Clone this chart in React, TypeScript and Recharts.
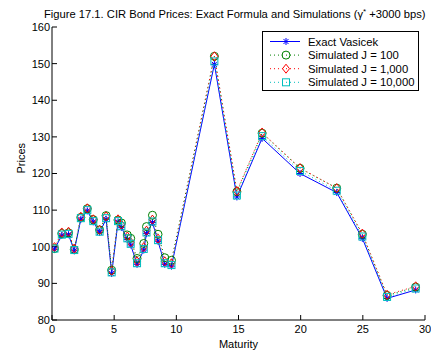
import React from 'react';
import { LineChart, Line, XAxis, YAxis, Legend } from 'recharts';

const maturities = [0.2, 0.79, 1.33, 1.79, 2.32, 2.84, 3.32, 3.83, 4.35, 4.8, 5.31, 5.58, 6.06, 6.33, 6.84, 7.38, 7.6, 8.08, 8.53, 9.07, 9.61, 13.06, 14.87, 16.9, 19.95, 22.9, 24.96, 26.95, 29.25];
const exactVasicek = [99.3, 103.1, 103.3, 98.9, 107.5, 109.8, 106.8, 103.9, 107.5, 92.7, 106.8, 105.3, 102.0, 100.5, 95.2, 99.1, 103.6, 106.6, 101.5, 95.2, 94.7, 149.8, 113.6, 129.6, 120.0, 114.8, 102.3, 85.9, 88.2];
const simJ100 = [99.5, 103.6, 103.8, 99.2, 108.0, 110.4, 107.4, 104.6, 108.5, 93.6, 107.3, 106.5, 103.2, 102.3, 96.8, 100.9, 105.5, 108.6, 103.4, 97.0, 96.3, 152.0, 115.0, 131.0, 121.4, 116.0, 103.4, 86.7, 89.0];
const simJ1000 = [99.9, 103.9, 104.1, 99.5, 108.2, 110.5, 107.5, 104.6, 108.3, 93.4, 107.5, 106.0, 102.8, 101.2, 96.0, 99.9, 104.4, 107.4, 102.2, 96.0, 95.5, 152.0, 115.2, 131.2, 121.5, 116.0, 103.6, 86.9, 89.2];
const simJ10000 = [99.5, 103.3, 103.5, 99.1, 107.8, 110.0, 107.0, 104.1, 107.8, 93.0, 107.0, 105.6, 102.3, 100.8, 95.5, 99.4, 103.9, 106.9, 101.8, 95.5, 95.0, 150.6, 114.0, 130.2, 120.7, 115.3, 102.8, 86.3, 88.6];

const xTicks = [0, 5, 10, 15, 20, 25, 30];
const yTicks = [80, 90, 100, 110, 120, 130, 140, 150, 160];
const seriesNames = ['Exact Vasicek', 'Simulated J = 100', 'Simulated J = 1,000', 'Simulated J = 10,000'];

const data = maturities.map((m, i) => ({
  m,
  exact: exactVasicek[i],
  j100: simJ100[i],
  j1000: simJ1000[i],
  j10000: simJ10000[i],
}));

const BLUE = '#0000ff';
const GREEN = '#008000';
const RED = '#ff0000';
const CYAN = '#00bfbf';
const FONT = '"Liberation Sans", Arial, Helvetica, sans-serif';

const Star = ({ cx, cy, c = BLUE, r = 3.5 }: any) => {
  const d = r * 0.72;
  return (
    <g stroke={c} strokeWidth={1} fill="none">
      <line x1={cx - r} y1={cy} x2={cx + r} y2={cy} />
      <line x1={cx} y1={cy - r} x2={cx} y2={cy + r} />
      <line x1={cx - d} y1={cy - d} x2={cx + d} y2={cy + d} />
      <line x1={cx - d} y1={cy + d} x2={cx + d} y2={cy - d} />
    </g>
  );
};
const Circle = ({ cx, cy, c = GREEN }: any) => (
  <circle cx={cx} cy={cy} r={4} stroke={c} strokeWidth={1} fill="none" />
);
const Diamond = ({ cx, cy, c = RED }: any) => (
  <path d={`M${cx},${cy - 4.5} L${cx + 3.5},${cy} L${cx},${cy + 4.5} L${cx - 3.5},${cy} Z`} stroke={c} strokeWidth={1} fill="none" />
);
const Square = ({ cx, cy, c = CYAN }: any) => (
  <rect x={cx - 3.5} y={cy - 3.5} width={7} height={7} stroke={c} strokeWidth={1} fill="none" />
);

const mk = (Comp: any) => (props: any) => {
  const { cx, cy, index } = props;
  if (cx == null || cy == null) return <g key={`d-${index}`} />;
  return <g key={`d-${index}`}><Comp cx={cx} cy={cy} /></g>;
};

const LegendBox = () => {
  const rows = [
    { name: seriesNames[0], color: BLUE, dash: undefined, M: Star },
    { name: seriesNames[1], color: GREEN, dash: '1 3', M: Circle },
    { name: seriesNames[2], color: RED, dash: '1 3', M: Diamond },
    { name: seriesNames[3], color: CYAN, dash: '1 3', M: Square },
  ];
  return (
    <div style={{ width: 157, height: 60, border: '1px solid #000', background: '#fff', boxSizing: 'border-box', position: 'relative' }}>
      <svg width={155} height={58} style={{ position: 'absolute', left: 0, top: 0 }}>
        {rows.map((r, i) => {
          const y = 9.5 + i * 13.6;
          return (
            <g key={r.name}>
              <line x1={7} y1={y} x2={37} y2={y} stroke={r.color} strokeWidth={1} strokeDasharray={r.dash} />
              <r.M cx={23} cy={y} c={r.color} />
              <text x={45} y={y + 4} fontSize={11.3} fontFamily={FONT} fill="#000">{r.name}</text>
            </g>
          );
        })}
      </svg>
    </div>
  );
};

export default function App() {
  return (
    <div style={{ position: 'absolute', left: 0, top: 0, width: 431, height: 353, background: '#fff', fontFamily: FONT }}>
      <div style={{ position: 'absolute', left: 44, top: 8, width: 387, whiteSpace: 'nowrap', fontSize: 11.2, color: '#000', lineHeight: '13px' }}>
        Figure 17.1. CIR Bond Prices: Exact Formula and Simulations (γ<sup style={{ fontSize: 8, verticalAlign: '4px', lineHeight: 0 }}>*</sup> +3000 bps)
      </div>
      <LineChart width={431} height={353} data={data} margin={{ top: 27, right: 6, bottom: 0, left: 0 }}>
        <XAxis xAxisId="b" dataKey="m" type="number" domain={[0, 30]} ticks={xTicks} orientation="bottom" height={33}
          tickSize={-5} tickMargin={10} stroke="#000" axisLine={{ stroke: '#000' }} tickLine={{ stroke: '#000' }}
          tick={{ fontSize: 11, fill: '#000', fontFamily: FONT }} allowDataOverflow
          label={{ value: 'Maturity', position: 'insideBottom', offset: 5, fontSize: 11, fill: '#000', fontFamily: FONT }} />
        <XAxis xAxisId="t" dataKey="m" type="number" domain={[0, 30]} ticks={xTicks} orientation="top" height={0}
          tickSize={-5} tick={false} axisLine={{ stroke: '#000' }} tickLine={{ stroke: '#000' }} allowDataOverflow />
        <YAxis yAxisId="l" type="number" domain={[80, 160]} ticks={yTicks} orientation="left" width={52}
          tickSize={-5} tickMargin={7} axisLine={{ stroke: '#000' }} tickLine={{ stroke: '#000' }}
          tick={{ fontSize: 11, fill: '#000', fontFamily: FONT }} allowDataOverflow
          label={{ value: 'Prices', angle: -90, position: 'insideLeft', offset: 21, fontSize: 11, fill: '#000', fontFamily: FONT }} />
        <YAxis yAxisId="r" type="number" domain={[80, 160]} ticks={yTicks} orientation="right" width={0}
          tickSize={-5} tick={false} axisLine={{ stroke: '#000' }} tickLine={{ stroke: '#000' }} allowDataOverflow />
        <Legend layout="vertical" align="center" verticalAlign="middle" content={() => <LegendBox />}
          wrapperStyle={{ position: 'absolute', left: 262, top: 31, width: 157, height: 60 }} />
        <Line xAxisId="b" yAxisId="l" dataKey="exact" name={seriesNames[0]} stroke={BLUE} strokeWidth={1} dot={mk(Star)} activeDot={false} isAnimationActive={false} />
        <Line xAxisId="b" yAxisId="l" dataKey="j100" name={seriesNames[1]} stroke={GREEN} strokeWidth={1} strokeDasharray="1 3" dot={mk(Circle)} activeDot={false} isAnimationActive={false} />
        <Line xAxisId="b" yAxisId="l" dataKey="j1000" name={seriesNames[2]} stroke={RED} strokeWidth={1} strokeDasharray="1 3" dot={mk(Diamond)} activeDot={false} isAnimationActive={false} />
        <Line xAxisId="b" yAxisId="l" dataKey="j10000" name={seriesNames[3]} stroke={CYAN} strokeWidth={1} strokeDasharray="1 3" dot={mk(Square)} activeDot={false} isAnimationActive={false} />
      </LineChart>
    </div>
  );
}
